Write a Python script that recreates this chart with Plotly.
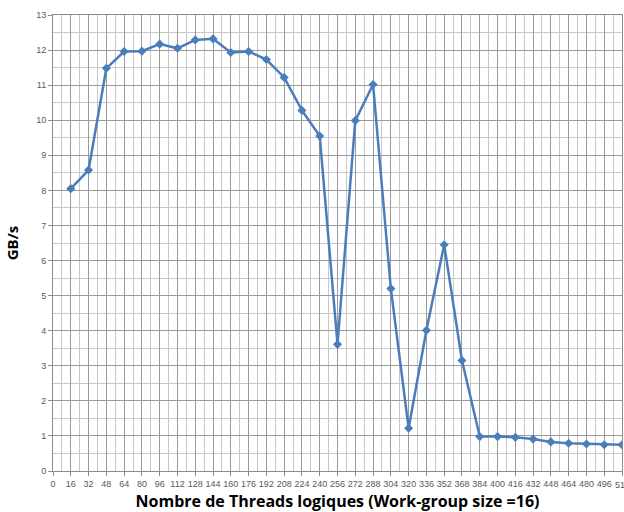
import plotly.graph_objects as go

# Number of logical threads (work-group size = 16) and measured bandwidth in GB/s
threads = [16, 32, 48, 64, 80, 96, 112, 128, 144, 160, 176, 192, 208, 224, 240, 256,
           272, 288, 304, 320, 336, 352, 368, 384, 400, 416, 432, 448, 464, 480, 496, 512]
bandwidth = [8.05, 8.58, 11.48, 11.96, 11.97, 12.17, 12.05, 12.29, 12.32, 11.93, 11.96, 11.73,
             11.22, 10.28, 9.55, 3.61, 9.99, 11.02, 5.2, 1.22, 4.01, 6.45, 3.15, 0.98,
             0.98, 0.96, 0.91, 0.83, 0.79, 0.77, 0.75, 0.75]

x_ticks = list(range(0, 513, 16))
y_ticks = list(range(0, 14))

fig = go.Figure()
fig.add_trace(go.Scatter(
    x=threads, y=bandwidth, mode="lines+markers",
    line=dict(color="#4A7EBB", width=2.5),
    marker=dict(symbol="diamond", size=7, color="#4A7EBB"),
    showlegend=False,
))

tick_font = dict(size=9, color="#595959", family="Liberation Sans, Arial, sans-serif")

fig.update_layout(
    width=624, height=512,
    margin=dict(l=53, r=2, t=15, b=41),
    paper_bgcolor="white", plot_bgcolor="white",
    font=dict(family="Liberation Sans, Arial, sans-serif", color="#595959"),
)
fig.update_xaxes(
    range=[0, 512], tickmode="array", tickvals=x_ticks, ticktext=[str(v) for v in x_ticks],
    tickfont=tick_font, tickangle=0,
    showgrid=True, gridcolor="#9A9A9A", gridwidth=1,
    minor=dict(dtick=8, tick0=0, showgrid=True, gridcolor="#C8C8C8", gridwidth=1),
    ticks="outside", ticklen=4, tickcolor="#8C8C8C",
    showline=True, linecolor="#8C8C8C", mirror=True, zeroline=False,
    automargin=False,
    title=dict(text="<b>Nombre de Threads logiques (Work-group size =16)</b>",
               font=dict(size=16, color="#000000", family="Open Sans, Liberation Sans, sans-serif"),
               standoff=13),
)
fig.update_yaxes(
    range=[0, 13], tickmode="array", tickvals=y_ticks,
    tickfont=tick_font,
    showgrid=True, gridcolor="#9A9A9A", gridwidth=1,
    minor=dict(dtick=0.5, tick0=0, showgrid=True, gridcolor="#C8C8C8", gridwidth=1),
    ticks="outside", ticklen=4, tickcolor="#8C8C8C",
    showline=True, linecolor="#8C8C8C", mirror=True, zeroline=False,
    automargin=False,
    title=dict(text="<b>GB/s</b>", font=dict(size=15, color="#000000",
               family="Open Sans, Liberation Sans, sans-serif"), standoff=13),
)

# The last category label sits at the right edge of the page and runs past it
fig.add_annotation(
    x=x_ticks[-1], y=0, xref="x", yref="y", text=str(x_ticks[-1]),
    showarrow=False, yanchor="top", xanchor="center", yshift=-7,
    font=tick_font,
)

fig.write_html("out.html")
